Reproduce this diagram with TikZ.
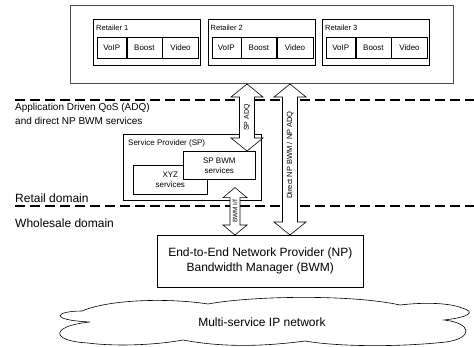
\documentclass[tikz,border=0pt]{standalone}
\usepackage{fontspec}
\setmainfont{Liberation Sans}
\usetikzlibrary{calc,positioning}

\begin{document}
\begin{tikzpicture}[x=1pt,y=-1pt,
    box/.style={draw, line width=0.6pt, inner sep=0pt, anchor=north west},
    cell/.style={draw, line width=0.6pt, inner sep=0pt, minimum height=21pt, font=\fontsize{8}{9}\selectfont},
    boundary/.style={line width=1.4pt, dash pattern=on 10pt off 5pt},
    bigarrow/.style args={#1/#2/#3}{draw, fill=white, line width=0.6pt,
        to path={let \p1=(\tikztostart), \p2=(\tikztotarget) in
            (\p1) -- (\x1+#1,\y1-#3) -- (\x1+#2,\y1-#3) -- (\x2+#2,\y2+#3) -- (\x2+#1,\y2+#3)
            -- (\p2) -- (\x2-#1,\y2+#3) -- (\x2-#2,\y2+#3) -- (\x1-#2,\y1-#3) -- (\x1-#1,\y1-#3) -- cycle}},
    arrowtext/.style={rotate=90, inner sep=0pt, font=\fontsize{7}{8}\selectfont}]
    \useasboundingbox (0,0) rectangle (474,346);

    % Domain boundaries
    \draw [boundary] (15,100) -- (474,100);
    \draw [boundary] (15,206) -- (474,206);

    % Retailers on top
    \node [box, draw=black!70, line width=1pt, minimum width=383pt, minimum height=78pt] (retail) at (70,5) {};
    \foreach \r in {1,2,3} {
        \node [box, minimum width=107pt, minimum height=46pt] (ret\r) at ({93+(\r-1)*114.5},19) {};
        \node [anchor=west, inner sep=0pt, font=\fontsize{7.5}{9}\selectfont] (retlbl\r) at ($(ret\r.north west)+(3,9)$) {Retailer \r};
        \node [cell, minimum width=29pt, anchor=north west] (voip\r) at ($(ret\r.north west)+(4,18)$) {VoIP};
        \node [cell, minimum width=35pt, right=0pt of voip\r] (boost\r) {Boost};
        \node [cell, minimum width=36pt, right=0pt of boost\r] (video\r) {Video};
    }

    % Left hand texts
    \node [anchor=north west, align=left, inner sep=0pt, font=\fontsize{10}{14}\selectfont] (adqtext) at (15,103) {Application Driven QoS (ADQ)\\and direct NP BWM services};
    \node [anchor=west, inner sep=0pt, font=\fontsize{12}{14}\selectfont] (retaildom) at (15,198) {Retail domain};
    \node [anchor=west, inner sep=0pt, font=\fontsize{12}{14}\selectfont] (wholedom) at (15,223) {Wholesale domain};

    % Service provider
    \node [box, minimum width=138pt, minimum height=66pt] (sp) at (123,134) {};
    \node [anchor=west, inner sep=0pt, font=\fontsize{8}{10}\selectfont] (splbl) at ($(sp.north west)+(5,9)$) {Service Provider (SP)};
    \node [box, minimum width=74pt, minimum height=29pt, align=center, font=\fontsize{8}{10}\selectfont] (xyz) at (133,165) {XYZ\\services};
    \node [box, fill=white, minimum width=72pt, minimum height=28pt, align=center, font=\fontsize{8}{10}\selectfont] (spbwm) at (183,151) {SP BWM\\services};

    % Network provider
    \node [box, minimum width=206pt, minimum height=52pt, align=center, font=\fontsize{12}{15}\selectfont] (np) at (157,235) {End-to-End Network Provider (NP)\\Bandwidth Manager (BWM)};

    % Interfaces
    \coordinate (adqx) at (247,0);
    \coordinate (npx) at (290,0);
    \coordinate (bwmx) at (235,0);
    \draw [bigarrow=16pt/7.5pt/13pt] (retail.south -| adqx) to (spbwm.north -| adqx);
    \draw [bigarrow=16pt/7.5pt/13pt] (retail.south -| npx) to (np.north -| npx);
    \draw [bigarrow=12pt/5pt/10pt] ([yshift=13pt]sp.south -| bwmx) to (np.north -| bwmx);
    \node [arrowtext] (adqlbl) at ($(retail.south -| adqx)!0.5!(spbwm.north -| adqx)$) {SP ADQ};
    \node [arrowtext, font=\fontsize{7.5}{8}\selectfont] (nplbl) at ($(retail.south -| npx)!0.47!(np.north -| npx)$) {Direct NP BWM / NP ADQ};
    \node [arrowtext, font=\fontsize{6.5}{7}\selectfont] (bwmlbl) at ($([yshift=13pt]sp.south -| bwmx)!0.5!(np.north -| bwmx)$) {BWM I/f};

    % IP network cloud
    \draw [line width=0.6pt] (82,311) .. controls (110,299) and (170,298) .. (208,304)
        .. controls (250,296) and (350,294) .. (400,305)
        .. controls (425,302) and (450,303) .. (462,308)
        .. controls (476,312) and (470,317) .. (444,320)
        .. controls (472,323) and (474,338) .. (446,342)
        .. controls (400,347) and (340,347) .. (305,341)
        .. controls (260,347) and (220,347) .. (183,340)
        .. controls (150,346) and (110,346) .. (88,343)
        .. controls (50,341) and (50,326) .. (90,322)
        .. controls (48,320) and (55,311) .. (82,311) -- cycle;
    \node [font=\fontsize{12}{14}\selectfont] (ipnet) at (262,322) {Multi-service IP network};
\end{tikzpicture}
\end{document}
